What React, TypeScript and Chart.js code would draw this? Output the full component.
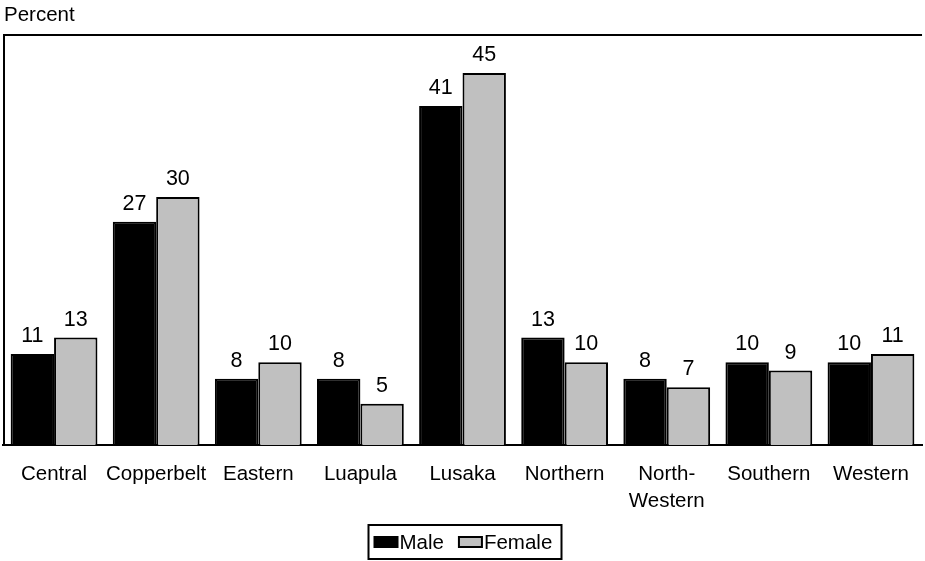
import React, { useEffect, useRef } from "react";
import { Chart, registerables } from "chart.js";

Chart.register(...registerables);

// Provinces (multi-line labels are arrays)
const categories: (string | string[])[] = [
  "Central",
  "Copperbelt",
  "Eastern",
  "Luapula",
  "Lusaka",
  "Northern",
  ["North-", "Western"],
  "Southern",
  "Western",
];

const maleValues = [11, 27, 8, 8, 41, 13, 8, 10, 10];
const femaleValues = [13, 30, 10, 5, 45, 10, 7, 9, 11];

const seriesNames = ["Male", "Female"];
const yAxisTitle = "Percent";
const yMax = 49.6;

const FONT = "'Liberation Sans', Arial, Helvetica, sans-serif";
const MALE_COLOR = "#000000";
const FEMALE_COLOR = "#c0c0c0";

const framePlugin = {
  id: "frameAndLabels",
  afterDraw(chart: any) {
    const { ctx, chartArea } = chart;
    const { left, right, top, bottom } = chartArea;
    ctx.save();

    // left and top frame lines
    ctx.strokeStyle = "#000";
    ctx.lineWidth = 2;
    ctx.beginPath();
    ctx.moveTo(left + 1, bottom);
    ctx.lineTo(left + 1, top);
    ctx.lineTo(right, top);
    ctx.stroke();

    // axis title
    ctx.fillStyle = "#000";
    ctx.font = `20.5px ${FONT}`;
    ctx.textAlign = "left";
    ctx.textBaseline = "alphabetic";
    ctx.fillText(yAxisTitle, 4, 21);

    // value labels above each bar
    ctx.font = `21.5px ${FONT}`;
    ctx.textAlign = "center";
    chart.data.datasets.forEach((ds: any, di: number) => {
      const meta = chart.getDatasetMeta(di);
      meta.data.forEach((bar: any, i: number) => {
        ctx.fillText(String(ds.data[i]), bar.x, bar.y - 12);
      });
    });

    // legend box
    ctx.font = `20.5px ${FONT}`;
    const cx = 465;
    const boxW = 193;
    const boxTop = 525;
    const boxH = 34;
    const bx = cx - boxW / 2;
    ctx.lineWidth = 2;
    ctx.strokeStyle = "#000";
    ctx.strokeRect(bx, boxTop, boxW, boxH);

    const items = [
      { label: seriesNames[0], color: MALE_COLOR },
      { label: seriesNames[1], color: FEMALE_COLOR },
    ];
    let x = bx + 6;
    const swY = 537;
    ctx.textAlign = "left";
    items.forEach((it) => {
      ctx.fillStyle = it.color;
      ctx.fillRect(x, swY, 23, 10);
      ctx.lineWidth = 2;
      ctx.strokeStyle = "#000";
      ctx.strokeRect(x, swY, 23, 10);
      ctx.fillStyle = "#000";
      ctx.fillText(it.label, x + 25, 549);
      x += 25 + ctx.measureText(it.label).width + 15;
    });

    ctx.restore();
  },
};

export default function App() {
  const canvasRef = useRef<HTMLCanvasElement | null>(null);

  useEffect(() => {
    if (!canvasRef.current) return;
    const chart = new Chart(canvasRef.current, {
      type: "bar",
      data: {
        labels: categories,
        datasets: [
          {
            label: seriesNames[0],
            data: maleValues,
            backgroundColor: MALE_COLOR,
            borderColor: "#000",
            borderWidth: 2,
            categoryPercentage: 0.85,
            barPercentage: 1,
          },
          {
            label: seriesNames[1],
            data: femaleValues,
            backgroundColor: FEMALE_COLOR,
            borderColor: "#000",
            borderWidth: 2,
            categoryPercentage: 0.85,
            barPercentage: 1,
          },
        ],
      },
      options: {
        responsive: false,
        devicePixelRatio: 1,
        animation: false,
        layout: { padding: { left: 3, right: 1, top: 35, bottom: 0 } },
        plugins: {
          legend: { display: false },
          tooltip: { enabled: false },
        },
        scales: {
          x: {
            grid: { display: false, drawTicks: false },
            border: { display: true, color: "#000", width: 2 },
            ticks: {
              color: "#000",
              font: { family: FONT, size: 20.5, lineHeight: 1.3 },
              padding: 16,
              maxRotation: 0,
              autoSkip: false,
            },
            afterFit: (scale: any) => {
              scale.height = 116;
            },
          },
          y: {
            display: false,
            min: 0,
            max: yMax,
          },
        },
      },
      plugins: [framePlugin],
    });
    return () => chart.destroy();
  }, []);

  return (
    <div style={{ position: "absolute", left: 0, top: 0, width: 925, height: 561, background: "#fff" }}>
      <canvas ref={canvasRef} width={925} height={561} />
    </div>
  );
}
